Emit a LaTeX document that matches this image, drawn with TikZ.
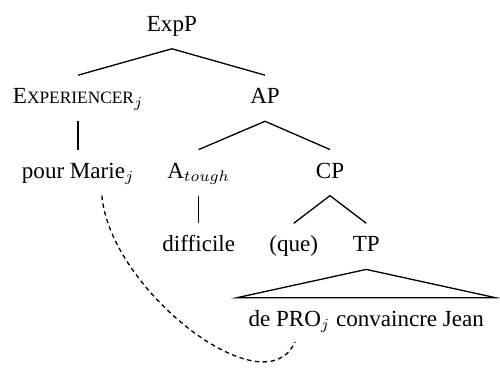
\documentclass[tikz,border=0pt]{standalone}
\usepackage{fontspec}
\setmainfont{Liberation Serif}
\newcommand{\fakesc}[1]{{\fontsize{7.9}{9}\selectfont #1}}

\begin{document}
\begin{tikzpicture}[
    font=\fontsize{10.5}{12.6}\selectfont,
    cat/.style={anchor=base, inner ysep=4pt, inner xsep=2pt,
                execute at begin node=\strut},
    branch/.style={line width=0.6pt},
    trace/.style={line width=0.6pt, dash pattern=on 2pt off 1.6pt},
]

    \useasboundingbox (0,0) rectangle (8,-5.952);

    \node[cat] (expp) at (2.75,-0.50) {ExpP};
    \node[cat] (exper) at (1.25,-1.66) {E\fakesc{XPERIENCER}$_j$};
    \node[cat] (ap) at (4.24,-1.66) {AP};
    \node[cat] (marie) at (1.25,-2.85) {pour Marie$_j$};
    \node[cat] (atough) at (3.18,-2.85) {A$_{tough}$};
    \node[cat] (cp) at (5.28,-2.85) {CP};
    \node[cat] (difficile) at (3.18,-4.03) {difficile};
    \node[cat] (que) at (4.70,-4.03) {(que)};
    \node[cat] (tp) at (5.86,-4.03) {TP};
    \node[cat, inner xsep=5pt] (yield) at (5.86,-5.22) {de PRO$_j$ convaincre Jean};
    \coordinate (proj) at (4.72,-5.47);

    \draw[branch] (expp.south) -- (exper.north);
    \draw[branch] (expp.south) -- (ap.north);
    \draw[branch] (exper.south) -- (marie.north);
    \draw[branch] (ap.south) -- (atough.north);
    \draw[branch] (ap.south) -- (cp.north);
    \draw[branch] (atough.south) -- (difficile.north);
    \draw[branch] (cp.south) -- (que.north);
    \draw[branch] (cp.south) -- (tp.north);
    \draw[branch] (tp.south) -- (yield.north west) -- (yield.north east) -- cycle;

    % binding of PRO by the experiencer
    \draw[trace] ([xshift=0.38cm]marie.south) .. controls (1.76,-4.64) and (4.24,-6.56) .. (proj);

\end{tikzpicture}
\end{document}
